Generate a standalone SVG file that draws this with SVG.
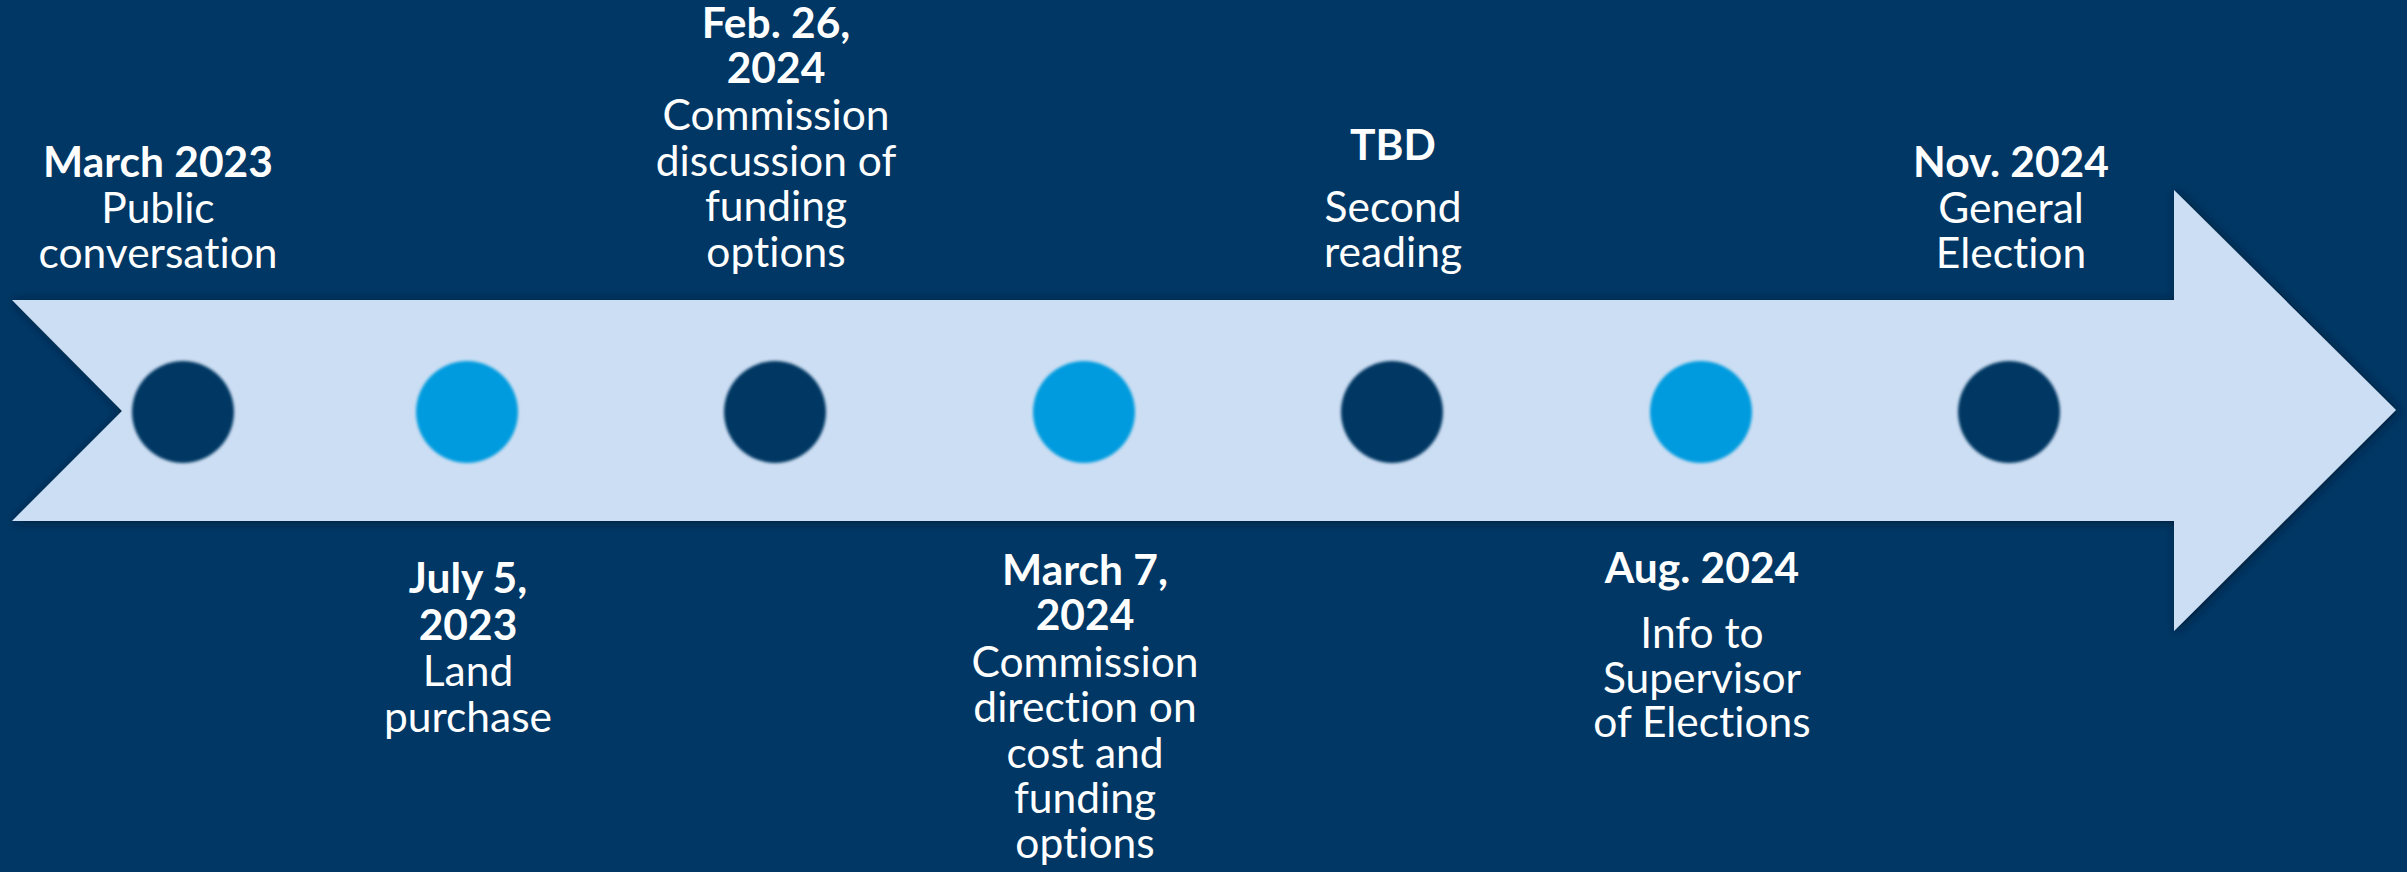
<svg xmlns="http://www.w3.org/2000/svg" width="2407" height="872" viewBox="0 0 2407 872">
<defs>
<filter id="glow" x="-5%" y="-20%" width="110%" height="140%">
<feGaussianBlur in="SourceAlpha" stdDeviation="5" result="b"/>
<feOffset in="b" dx="2" dy="1" result="o"/>
<feFlood flood-color="#001a33" flood-opacity="0.9"/>
<feComposite in2="o" operator="in" result="s"/>
<feMerge><feMergeNode in="s"/><feMergeNode in="SourceGraphic"/></feMerge>
</filter>
<filter id="soft" x="-20%" y="-20%" width="140%" height="140%">
<feGaussianBlur stdDeviation="1.8"/>
</filter>
<style>
.t{font-family:Lato,"Liberation Sans",sans-serif;font-size:42.5px;fill:#ffffff;text-anchor:middle;font-variant-ligatures:none}
.b{font-weight:bold}
.dk{fill:#003764}
.lt{fill:#009bde}
</style>
</defs>
<rect width="2407" height="872" fill="#003764"/>
<g id="arrow">
<polygon points="12,300 2174,300 2174,190 2396,410 2174,631 2174,521 12,521 122,411" fill="#ccdef3" filter="url(#glow)"/>
</g>
<g id="connectors"></g>
<g id="n1">
<circle cx="183" cy="412" r="51" class="dk" filter="url(#soft)"/>
<text class="t b" x="158" y="177">March 2023</text>
<text class="t" x="158" y="223">Public</text>
<text class="t" x="158" y="268">conversation</text>
</g>
<g id="n2">
<circle cx="467" cy="412" r="51" class="lt" filter="url(#soft)"/>
<text class="t b" x="468" y="593">July 5,</text>
<text class="t b" x="468" y="640">2023</text>
<text class="t" x="468" y="686">Land</text>
<text class="t" x="468" y="732">purchase</text>
</g>
<g id="n3">
<circle cx="775" cy="412" r="51" class="dk" filter="url(#soft)"/>
<text class="t b" x="776" y="38">Feb. 26,</text>
<text class="t b" x="776" y="83">2024</text>
<text class="t" x="776" y="130">Commission</text>
<text class="t" x="776" y="176">discussion of</text>
<text class="t" x="776" y="221">funding</text>
<text class="t" x="776" y="267">options</text>
</g>
<g id="n4">
<circle cx="1084" cy="412" r="51" class="lt" filter="url(#soft)"/>
<text class="t b" x="1085" y="585">March 7,</text>
<text class="t b" x="1085" y="630">2024</text>
<text class="t" x="1085" y="677">Commission</text>
<text class="t" x="1085" y="722">direction on</text>
<text class="t" x="1085" y="768">cost and</text>
<text class="t" x="1085" y="813">funding</text>
<text class="t" x="1085" y="858">options</text>
</g>
<g id="n5">
<circle cx="1392" cy="412" r="51" class="dk" filter="url(#soft)"/>
<text class="t b" x="1393" y="160">TBD</text>
<text class="t" x="1393" y="222">Second</text>
<text class="t" x="1393" y="267">reading</text>
</g>
<g id="n6">
<circle cx="1701" cy="412" r="51" class="lt" filter="url(#soft)"/>
<text class="t b" x="1702" y="583">Aug. 2024</text>
<text class="t" x="1702" y="648">Info to</text>
<text class="t" x="1702" y="693">Supervisor</text>
<text class="t" x="1702" y="737">of Elections</text>
</g>
<g id="n7">
<circle cx="2009" cy="412" r="51" class="dk" filter="url(#soft)"/>
<text class="t b" x="2011" y="177">Nov. 2024</text>
<text class="t" x="2011" y="223">General</text>
<text class="t" x="2011" y="268">Election</text>
</g>
</svg>
